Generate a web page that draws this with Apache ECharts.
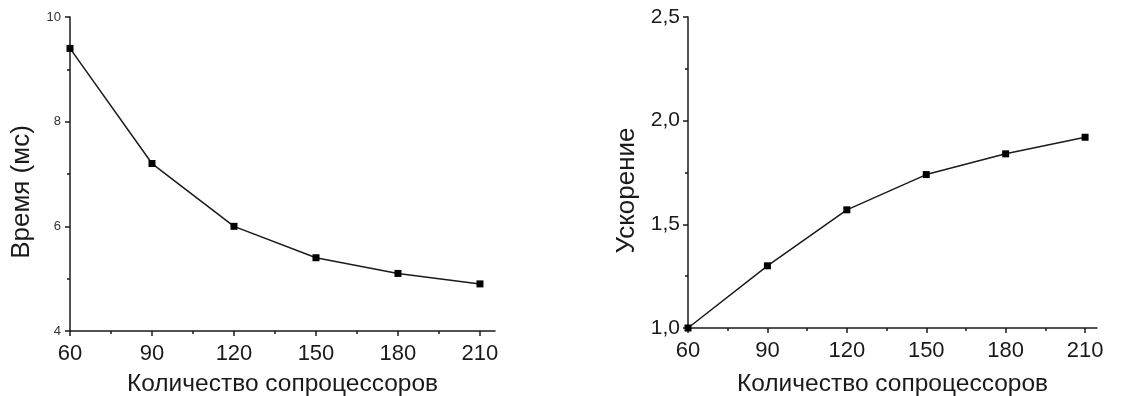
<!DOCTYPE html>
<html>
<head>
<meta charset="utf-8">
<script src="https://cdn.jsdelivr.net/npm/echarts@6/dist/echarts.min.js"></script>
<style>
  html, body { margin: 0; padding: 0; background: #fff; }
  #chart { width: 1121px; height: 396px; }
</style>
</head>
<body>
<div id="chart"></div>
<script>
// данные
const procs = [60, 90, 120, 150, 180, 210]
const timeMs = [9.4, 7.2, 6.0, 5.4, 5.1, 4.9]
const speedup = [1.0, 1.3, 1.57, 1.74, 1.84, 1.92]

const xTicks = [60, 90, 120, 150, 180, 210]
const xMinorTicks = [75, 105, 135, 165, 195]
const timeTicks = [4, 6, 8, 10]
const speedTicks = [1.0, 1.5, 2.0, 2.5]

const xTitle = 'Количество сопроцессоров'
const font = "'Liberation Sans', Arial, sans-serif"
const ink = '#1a1a1a'

const lineStyle = { color: ink, width: 1.5 }

const mainX = (grid, max) => ({
  type: 'value',
  gridIndex: grid,
  min: 60,
  max: max,
  position: 'bottom',
  splitLine: { show: false },
  axisLine: { lineStyle },
  axisTick: { customValues: xTicks, length: 5, lineStyle },
  axisLabel: {
    customValues: xTicks,
    margin: 12,
    color: ink,
    fontSize: 22,
    fontFamily: font,
  },
  name: xTitle,
  nameLocation: 'middle',
  nameGap: grid === 0 ? 41 : 44,
  nameTextStyle: { color: ink, fontSize: 24.5, fontFamily: font },
})

// второстепенные деления по x
const minorX = (grid, max) => ({
  type: 'value',
  gridIndex: grid,
  min: 60,
  max: max,
  position: 'bottom',
  splitLine: { show: false },
  axisLine: { show: false },
  axisTick: { customValues: xMinorTicks, length: 3, lineStyle },
  axisLabel: { show: false },
})

const chart = echarts.init(document.getElementById('chart'))

chart.setOption({
  animation: false,
  grid: [
    { left: 70, top: 17, width: 425, height: 314, outerBoundsMode: 'none' },
    { left: 688, top: 17, width: 409, height: 311, outerBoundsMode: 'none' },
  ],
  xAxis: [mainX(0, 215.5), minorX(0, 215.5), mainX(1, 214.5), minorX(1, 214.5)],
  yAxis: [
    {
      type: 'value',
      gridIndex: 0,
      min: 4,
      max: 10,
      interval: 2,
      splitLine: { show: false },
      axisLine: { show: true, lineStyle },
      axisTick: { show: true, length: 5, lineStyle },
      minorTick: { show: true, splitNumber: 2, length: 3, lineStyle },
      axisLabel: { margin: 9, color: '#333', fontSize: 13, fontFamily: font },
      name: 'Время (мс)',
      nameLocation: 'middle',
      nameGap: 35,
      nameTextStyle: { color: ink, fontSize: 26, fontFamily: font, padding: [0, 36, 0, 0] },
    },
    {
      type: 'value',
      gridIndex: 1,
      min: 1,
      max: 2.5,
      interval: 0.5,
      splitLine: { show: false },
      axisLine: { show: true, lineStyle },
      axisTick: { show: true, length: 5, lineStyle },
      minorTick: { show: true, splitNumber: 2, length: 3, lineStyle },
      axisLabel: {
        margin: 8,
        color: ink,
        fontSize: 21,
        fontFamily: font,
        formatter: (v) => v.toFixed(1).replace('.', ','),
      },
      name: 'Ускорение',
      nameLocation: 'middle',
      nameGap: 48,
      nameTextStyle: { color: ink, fontSize: 26, fontFamily: font, padding: [0, 36, 0, 0] },
    },
  ],
  series: [
    {
      type: 'line',
      xAxisIndex: 0,
      yAxisIndex: 0,
      data: procs.map((p, i) => [p, timeMs[i]]),
      symbol: 'rect',
      symbolSize: 7,
      clip: false,
      lineStyle,
      itemStyle: { color: '#000' },
    },
    {
      type: 'line',
      xAxisIndex: 2,
      yAxisIndex: 1,
      data: procs.map((p, i) => [p, speedup[i]]),
      symbol: 'rect',
      symbolSize: 7,
      clip: false,
      lineStyle,
      itemStyle: { color: '#000' },
    },
  ],
})
</script>
</body>
</html>
